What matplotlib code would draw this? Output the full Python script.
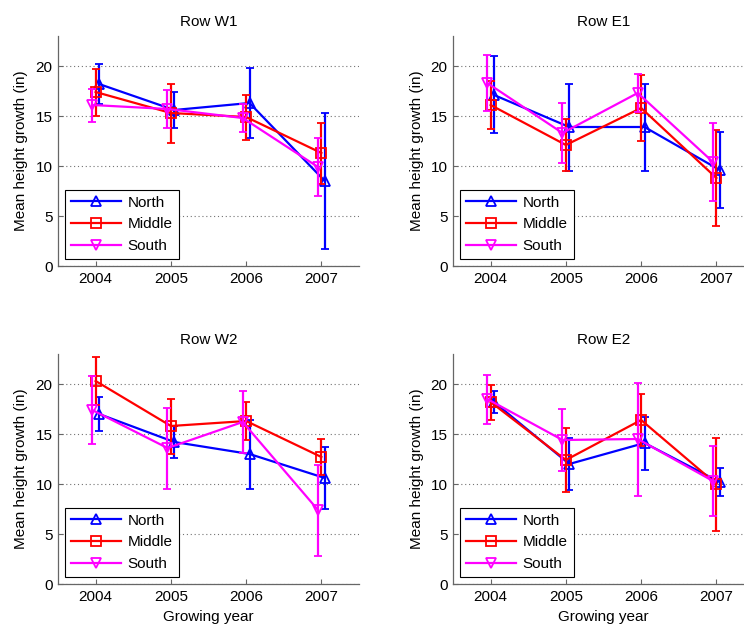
import matplotlib
matplotlib.use("Agg")
import matplotlib.pyplot as plt
import numpy as np

plt.rcParams['font.family'] = ['Liberation Sans', 'DejaVu Sans']

years = [2004, 2005, 2006, 2007]
series_names = ["North", "Middle", "South"]
panel_titles = ["Row W1", "Row E1", "Row W2", "Row E2"]

# Row W1
w1_north = [18.2, 15.6, 16.3, 8.5]
w1_north_err = [2.0, 1.8, 3.5, 6.8]
w1_middle = [17.4, 15.3, 14.9, 11.3]
w1_middle_err = [2.35, 2.95, 2.25, 3.05]
w1_south = [16.1, 15.7, 14.8, 9.9]
w1_south_err = [1.65, 1.9, 1.4, 2.9]

# Row E1
e1_north = [17.1, 13.9, 13.9, 9.6]
e1_north_err = [3.85, 4.35, 4.35, 3.8]
e1_middle = [16.1, 12.1, 15.8, 8.8]
e1_middle_err = [2.4, 2.6, 3.3, 4.8]
e1_south = [18.3, 13.3, 17.3, 10.4]
e1_south_err = [2.8, 3.0, 1.9, 3.9]

# Row W2
w2_north = [17.0, 14.2, 13.0, 10.6]
w2_north_err = [1.7, 1.6, 3.45, 3.1]
w2_middle = [20.3, 15.8, 16.3, 12.7]
w2_middle_err = [2.4, 2.75, 1.9, 1.8]
w2_south = [17.4, 13.6, 16.2, 7.4]
w2_south_err = [3.4, 4.05, 3.1, 4.55]

# Row E2
e2_north = [18.2, 12.0, 14.1, 10.2]
e2_north_err = [1.1, 2.6, 2.65, 1.4]
e2_middle = [18.2, 12.4, 16.4, 10.0]
e2_middle_err = [1.75, 3.2, 2.6, 4.65]
e2_south = [18.5, 14.4, 14.5, 10.3]
e2_south_err = [2.45, 3.1, 5.65, 3.5]

panels = [
    ([w1_north, w1_middle, w1_south], [w1_north_err, w1_middle_err, w1_south_err]),
    ([e1_north, e1_middle, e1_south], [e1_north_err, e1_middle_err, e1_south_err]),
    ([w2_north, w2_middle, w2_south], [w2_north_err, w2_middle_err, w2_south_err]),
    ([e2_north, e2_middle, e2_south], [e2_north_err, e2_middle_err, e2_south_err]),
]

colors = ["#0000ff", "#ff0000", "#ff00ff"]
markers = ["^", "s", "v"]
offsets = [0.045, 0.0, -0.045]

W, H = 744, 629
fig = plt.figure(figsize=(W / 100, H / 100), dpi=100)

# axes pixel boxes: (left, top, right, bottom)
boxes = [
    (58, 36, 359, 266),
    (453, 36, 754, 266),
    (58, 354, 359, 584),
    (453, 354, 754, 584),
]

for i, (box, (vals, errs)) in enumerate(zip(boxes, panels)):
    l, t, r, b = box
    ax = fig.add_axes([l / W, (H - b) / H, (r - l) / W, (b - t) / H])
    handles = []
    for j in range(3):
        x = np.array(years) + offsets[j]
        c = ax.errorbar(x, vals[j], yerr=errs[j], color=colors[j], marker=markers[j],
                        markerfacecolor='none', markeredgecolor=colors[j],
                        markersize=6.5, markeredgewidth=1.3, linewidth=1.6,
                        elinewidth=1.6, capsize=3.2, capthick=1.5, zorder=3 + j)
        handles.append(c.lines[0])
    ax.set_xlim(2003.5, 2007.5)
    ax.set_ylim(0, 23)
    ax.set_xticks(years)
    ax.set_xticklabels([str(y) for y in years])
    ax.set_yticks([0, 5, 10, 15, 20])
    ax.yaxis.grid(True, linestyle=(0, (1, 2.5)), color='0.45', linewidth=0.8)
    ax.set_axisbelow(True)
    for s in ['top', 'right']:
        ax.spines[s].set_visible(False)
    for s in ['left', 'bottom']:
        ax.spines[s].set_color('0.4')
        ax.spines[s].set_linewidth(0.9)
    ax.tick_params(direction='in', length=3.5, width=0.8, color='0.4',
                   labelsize=11, pad=4)
    ax.set_title(panel_titles[i], fontsize=11, pad=7)
    ax.set_ylabel("Mean height growth (in)", fontsize=11, labelpad=5)
    if i >= 2:
        ax.set_xlabel("Growing year", fontsize=11, labelpad=5)
    leg = ax.legend(handles, series_names, loc='lower left', fontsize=11,
                    fancybox=False, framealpha=1, edgecolor='black',
                    handlelength=3.3, handletextpad=0.4, labelspacing=0.5,
                    borderpad=0.4, borderaxespad=0.45)
    leg.get_frame().set_linewidth(0.8)

fig.savefig("out.png", dpi=100)
